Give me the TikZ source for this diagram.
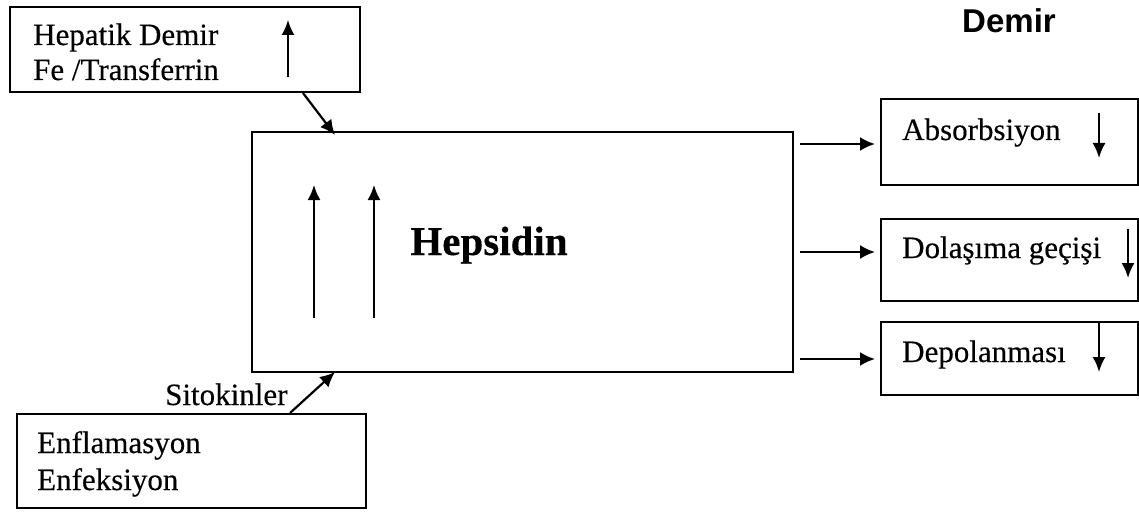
\documentclass[tikz,border=0pt]{standalone}
\usepackage{fontspec}
\setmainfont{Liberation Serif}[FakeBold=0.3]
\newfontfamily\demirfont{Liberation Sans}
\usetikzlibrary{arrows.meta}
\begin{document}
\begin{tikzpicture}[x=1pt,y=-1pt,
  box/.style={draw,line width=2pt,rectangle,inner sep=0pt},
  lbl/.style={anchor=base west,inner sep=0pt,font=\fontsize{31}{36}\selectfont},
  arr/.style={line width=2.2pt,-{Latex[length=15pt,width=14pt]}},
  thinarr/.style={line width=2pt,-{Latex[length=15pt,width=13pt]}}]
\useasboundingbox[fill=white] (0,0) rectangle (1139,513);

% boxes
\node[box,minimum width=350pt,minimum height=85pt] (hep) at (185,49.5) {};
\node[box,minimum width=541pt,minimum height=240pt] (hepc) at (522.5,252) {};
\node[box,minimum width=349pt,minimum height=94pt] (enf) at (191.5,461) {};
\node[box,minimum width=257pt,minimum height=86pt] (abs) at (1009,142) {};
\node[box,minimum width=257pt,minimum height=82pt] (dol) at (1009,260) {};
\node[box,minimum width=257pt,minimum height=73pt] (dep) at (1009,358.5) {};

% texts
\node[lbl] (t1) at (33,45) {Hepatik Demir};
\node[lbl] (t2) at (33,80) {Fe /Transferrin};
\node[anchor=base,inner sep=0pt,font=\bfseries\fontsize{41}{48}\selectfont] (hname) at (489,255) {Hepsidin};
\node[lbl] (t3) at (37,453) {Enflamasyon};
\node[lbl] (t4) at (37,490) {Enfeksiyon};
\node[lbl] (sito) at (165,405) {Sitokinler};
\node[lbl] (t5) at (902,140) {Absorbsiyon};
\node[lbl] (t6) at (902,258) {Dolaşıma geçişi};
\node[lbl] (t7) at (902,362) {Depolanması};
\node[anchor=base,inner sep=0pt,font=\demirfont\bfseries\fontsize{33}{38}\selectfont] (demir) at (1009,33) {Demir};

% coordinates
\coordinate (hepout) at (303,93);
\coordinate (hepin) at (335,135);
\coordinate (enfout) at (290,413);
\coordinate (enfin) at (335,372);
\coordinate (u1a) at (288,77);  \coordinate (u1b) at (288,20);
\coordinate (u2a) at (314,318); \coordinate (u2b) at (314,185);
\coordinate (u3a) at (374,318); \coordinate (u3b) at (374,185);
\coordinate (r1a) at (800,144); \coordinate (r1b) at (875,144);
\coordinate (r2a) at (800,252); \coordinate (r2b) at (875,252);
\coordinate (r3a) at (800,359); \coordinate (r3b) at (875,359);
\coordinate (d1a) at (1099,113); \coordinate (d1b) at (1099,158);
\coordinate (d2a) at (1128,229); \coordinate (d2b) at (1128,278);
\coordinate (d3a) at (1099,322); \coordinate (d3b) at (1099,372);

% connectors
\draw[arr] (hepout) -- (hepin);
\draw[arr] (enfout) -- (enfin);
\draw[thinarr] (u1a) -- (u1b);
\draw[thinarr] (u2a) -- (u2b);
\draw[thinarr] (u3a) -- (u3b);
\draw[arr] (r1a) -- (r1b);
\draw[arr] (r2a) -- (r2b);
\draw[arr] (r3a) -- (r3b);
\draw[thinarr] (d1a) -- (d1b);
\draw[thinarr] (d2a) -- (d2b);
\draw[thinarr] (d3a) -- (d3b);
\end{tikzpicture}
\end{document}
